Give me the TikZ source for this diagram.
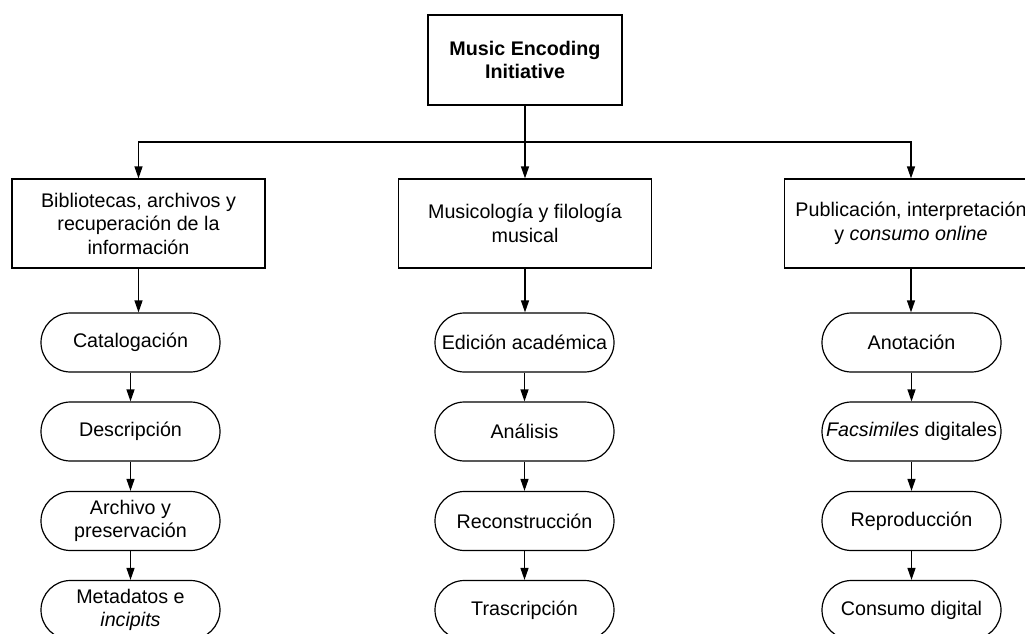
\documentclass[tikz,border=0pt]{standalone}
\usepackage{fontspec}
\setmainfont{Liberation Sans}
\usetikzlibrary{arrows.meta}

\begin{document}
\begin{tikzpicture}[x=1pt, y=-1pt, line width=1.2pt,
		every node/.style={font=\fontsize{19.7}{23.5}\selectfont, align=center, inner sep=0pt},
		area/.style={draw, minimum width=253pt, minimum height=89pt},
		pill/.style={draw, rounded corners=29.5pt, minimum width=179pt, minimum height=59pt},
		arr/.style={-{Triangle[length=12pt, width=8pt]}}]
		\useasboundingbox (0,0) rectangle (1025,634);
		\node[draw, minimum width=194pt, minimum height=90pt] (mei) at (525,60) {\textbf{Music Encoding}\\\textbf{Initiative}};
		\coordinate (split) at (525,142);
		\node[area] (lib) at (138.5,223.5) {Bibliotecas, archivos y\\recuperación de la\\información};
		\node[area] (mus) at (525,223.5) {Musicología y filología\\musical};
		\node[area] (pub) at (911,223.5) {Publicación, interpretación\\y \textit{consumo online}};
		\node[pill] (l1) at (130.5,342.5) {Catalogación};
		\node[pill] (l2) at (130.5,431.5) {Descripción};
		\node[pill] (l3) at (130.5,521) {Archivo y\\preservación};
		\node[pill] (l4) at (130.5,610) {Metadatos e\\\textit{incipits}};
		\node[pill] (m1) at (524.5,342.5) {Edición académica};
		\node[pill] (m2) at (524.5,431.5) {Análisis};
		\node[pill] (m3) at (524.5,521) {Reconstrucción};
		\node[pill] (m4) at (524.5,610) {Trascripción};
		\node[pill] (r1) at (911.5,342.5) {Anotación};
		\node[pill] (r2) at (911.5,431.5) {\textit{Facsimiles} digitales};
		\node[pill] (r3) at (911.5,521) {Reproducción};
		\node[pill] (r4) at (911.5,610) {Consumo digital};
		\draw[arr] (mei) -- (mus); \draw[arr] (split) -| (lib); \draw[arr] (split) -| (pub);
		\draw[arr] (lib) -- (lib.south |- l1.north); \draw[arr] (l1) -- (l2); \draw[arr] (l2) -- (l3); \draw[arr] (l3) -- (l4);
		\draw[arr] (mus) -- (mus.south |- m1.north); \draw[arr] (m1) -- (m2); \draw[arr] (m2) -- (m3); \draw[arr] (m3) -- (m4);
		\draw[arr] (pub) -- (pub.south |- r1.north); \draw[arr] (r1) -- (r2); \draw[arr] (r2) -- (r3); \draw[arr] (r3) -- (r4);
	\end{tikzpicture}
\end{document}
